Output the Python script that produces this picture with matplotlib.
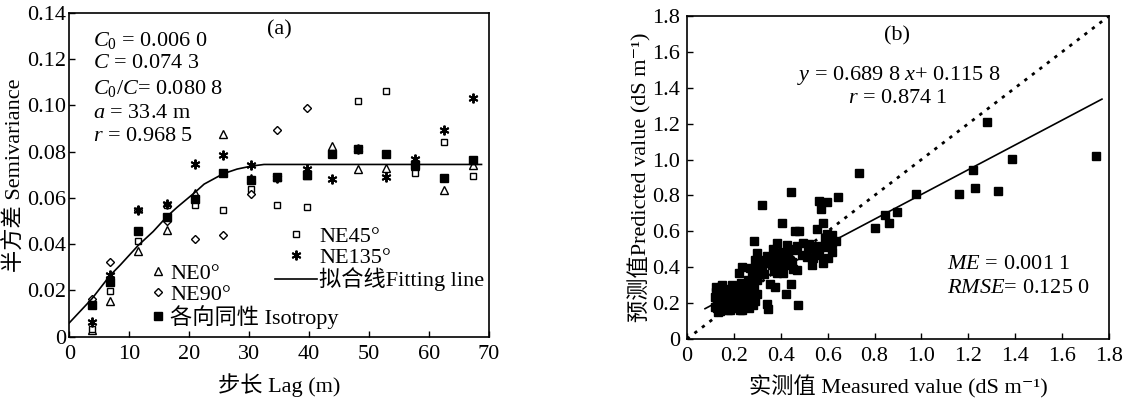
import matplotlib
matplotlib.use("Agg")
import matplotlib.pyplot as plt

plt.rcParams['font.family'] = ['Liberation Serif', 'Noto Sans CJK SC', 'DejaVu Serif']
plt.rcParams['mathtext.fontset'] = 'custom'
plt.rcParams['mathtext.rm'] = 'Liberation Serif'
plt.rcParams['mathtext.it'] = 'Liberation Serif:italic'

FS = 16

# ---------------- Panel (a) data ----------------
lag = [3.8, 6.8, 11.5, 16.3, 21.0, 25.7, 30.4, 34.7, 39.6, 43.8, 48.2, 52.8, 57.7, 62.5, 67.4]
ne0 = [0.003, 0.0156, 0.037, 0.0462, 0.0621, 0.0876, 0.0688, 0.069, 0.070, 0.0824, 0.0727, 0.0731, 0.074, 0.0633, 0.0741]
lag45 = [3.8, 6.8, 11.5, 16.3, 21.0, 25.7, 30.4, 34.7, 39.6, 48.2, 52.8, 57.7, 62.5, 67.4]
ne45 = [0.0035, 0.0196, 0.0413, 0.057, 0.0568, 0.0546, 0.064, 0.0568, 0.056, 0.102, 0.1063, 0.0708, 0.0841, 0.0693]
lag90 = [3.8, 6.8, 11.5, 16.3, 21.0, 25.7, 30.4, 34.7, 39.6]
ne90 = [0.0165, 0.0325, 0.055, 0.050, 0.0423, 0.0438, 0.0616, 0.0893, 0.099]
ne135 = [0.0062, 0.0267, 0.055, 0.0575, 0.0748, 0.0788, 0.0741, 0.0685, 0.0727, 0.0684, 0.0814, 0.069, 0.077, 0.0893, 0.1033]
iso = [0.0139, 0.0238, 0.0457, 0.0517, 0.0597, 0.0708, 0.0676, 0.069, 0.0698, 0.0792, 0.0814, 0.079, 0.0741, 0.0686, 0.0763]
fit_lag = [0.0, 3.8, 6.8, 8.5, 11.5, 14.0, 16.3, 18.0, 21.0, 22.5, 25.7, 28.0, 30.4, 32.5, 68.8]
fit_val = [0.006, 0.0165, 0.0265, 0.031, 0.0395, 0.0455, 0.052, 0.056, 0.0625, 0.066, 0.0705, 0.0725, 0.0738, 0.0745, 0.0745]

# ---------------- Panel (b) data ----------------
measured = [0.444, 0.321, 0.404, 0.461, 0.479, 0.562, 0.596, 0.646, 0.570, 0.582,
            0.556, 0.734, 0.802, 0.845, 0.863, 0.897, 0.976, 1.160, 1.222, 1.229,
            1.281, 1.325, 1.388, 1.743, 0.287, 0.472, 0.422, 0.444, 0.375, 0.354,
            0.340, 0.347, 0.636, 0.617, 0.603, 0.582, 0.532, 0.536, 0.511, 0.518,
            0.553, 0.589, 0.596, 0.617, 0.565, 0.589, 0.496, 0.471, 0.454, 0.447,
            0.468, 0.451, 0.425, 0.404, 0.418, 0.385, 0.375, 0.397, 0.383, 0.361,
            0.340, 0.343, 0.319, 0.297, 0.304, 0.290, 0.276, 0.269, 0.290, 0.262,
            0.233, 0.223, 0.247, 0.287, 0.257, 0.226, 0.200, 0.180, 0.162, 0.144,
            0.124, 0.365, 0.370, 0.330, 0.310, 0.400, 0.430, 0.440, 0.350, 0.320,
            0.300, 0.280, 0.410, 0.380, 0.420, 0.520, 0.490, 0.550, 0.600, 0.620,
            0.127, 0.127, 0.134, 0.148, 0.155, 0.169, 0.176, 0.191, 0.198, 0.212,
            0.226, 0.240, 0.247, 0.262, 0.276, 0.283, 0.141, 0.119, 0.162, 0.183,
            0.205, 0.233, 0.269, 0.130, 0.140, 0.145, 0.150, 0.160, 0.165, 0.170,
            0.175, 0.180, 0.185, 0.190, 0.195, 0.200, 0.205, 0.210, 0.215, 0.220,
            0.225, 0.230, 0.235, 0.240, 0.250, 0.255, 0.260, 0.265, 0.270, 0.280,
            0.125, 0.135, 0.150, 0.120, 0.130, 0.140, 0.160, 0.175, 0.190, 0.210,
            0.230, 0.250, 0.290, 0.300]
predicted = [0.818, 0.745, 0.645, 0.602, 0.602, 0.771, 0.762, 0.790, 0.725, 0.645,
             0.611, 0.924, 0.620, 0.691, 0.645, 0.710, 0.807, 0.808, 0.942, 0.843,
             1.211, 0.827, 1.003, 1.022, 0.546, 0.188, 0.251, 0.305, 0.292, 0.307,
             0.195, 0.165, 0.546, 0.487, 0.450, 0.422, 0.412, 0.450, 0.459, 0.506,
             0.518, 0.561, 0.585, 0.533, 0.468, 0.514, 0.537, 0.518, 0.496, 0.431,
             0.385, 0.389, 0.524, 0.487, 0.440, 0.533, 0.459, 0.403, 0.366, 0.412,
             0.463, 0.422, 0.440, 0.478, 0.403, 0.440, 0.366, 0.394, 0.338, 0.329,
             0.400, 0.366, 0.301, 0.283, 0.258, 0.273, 0.292, 0.273, 0.236, 0.288,
             0.264, 0.500, 0.380, 0.360, 0.370, 0.450, 0.470, 0.500, 0.440, 0.400,
             0.330, 0.310, 0.370, 0.420, 0.410, 0.530, 0.470, 0.490, 0.560, 0.580,
             0.208, 0.171, 0.152, 0.217, 0.180, 0.199, 0.161, 0.217, 0.180, 0.199,
             0.161, 0.217, 0.180, 0.199, 0.226, 0.190, 0.236, 0.236, 0.255, 0.245,
             0.245, 0.245, 0.255, 0.190, 0.200, 0.165, 0.250, 0.210, 0.170, 0.230,
             0.190, 0.200, 0.160, 0.240, 0.200, 0.170, 0.220, 0.180, 0.260, 0.200,
             0.230, 0.190, 0.160, 0.280, 0.220, 0.200, 0.240, 0.170, 0.300, 0.250,
             0.290, 0.270, 0.300, 0.180, 0.240, 0.155, 0.280, 0.260, 0.300, 0.270,
             0.310, 0.270, 0.210, 0.250]
slope = 0.6898
intercept = 0.1158
fit_x = [0.077, 1.77]
one_x = [0.0, 1.8]

fig = plt.figure(figsize=(11.4, 3.99), dpi=100)

# ================= Panel (a) =================
ax = fig.add_axes([0.0608, 0.1561, 0.3679, 0.8113])
ms = 5.5
ax.plot(lag, ne0, ls='none', marker='^', ms=ms, mfc='white', mec='black', mew=1.0, label='NE0°')
ax.plot(lag45, ne45, ls='none', marker='s', ms=ms - 0.5, mfc='white', mec='black', mew=1.0, label='NE45°')
ax.plot(lag90, ne90, ls='none', marker='D', ms=ms - 1, mfc='white', mec='black', mew=1.0, label='NE90°')
ax.plot(lag, ne135, ls='none', marker=(6, 2, 0), ms=ms + 1.5, mec='black', mew=1.4, label='NE135°')
ax.plot(lag, iso, ls='none', marker='s', ms=ms, mfc='black', mec='black', label='各向同性 Isotropy')
ax.plot(fit_lag, fit_val, color='black', lw=1.2, label='拟合线Fitting line')

ax.set_xlim(0, 70)
ax.set_ylim(0, 0.14)
ax.set_xticks(range(0, 71, 10))
ax.set_yticks([0, 0.02, 0.04, 0.06, 0.08, 0.10, 0.12, 0.14])
ax.set_yticklabels(['0', '0.02', '0.04', '0.06', '0.08', '0.10', '0.12', '0.14'])
ax.tick_params(direction='in', length=4, width=1, labelsize=FS)
ax.tick_params(axis='x', pad=6)
ax.tick_params(axis='y', pad=2)
for s in ax.spines.values():
    s.set_linewidth(1.2)
ax.set_xlabel('步长 Lag (m)', fontsize=FS)
ax.set_ylabel('半方差 Semivariance', fontsize=FS)
ax.xaxis.set_label_coords(0.5, -0.112)
ax.yaxis.set_label_coords(-0.103, 0.5)

ax.text(0.502, 0.947, '(a)', transform=ax.transAxes, ha='center', va='center', fontsize=FS)
ax.text(0.0565, 0.9165, r'$C_0$ = 0.006 0', transform=ax.transAxes, ha='left', va='center', fontsize=FS)
ax.text(0.0565, 0.8455, r'$C$ = 0.074 3', transform=ax.transAxes, ha='left', va='center', fontsize=FS)
ax.text(0.0565, 0.768, r'$C_0/C$= 0.080 8', transform=ax.transAxes, ha='left', va='center', fontsize=FS)
ax.text(0.0565, 0.691, r'$a$ = 33.4 m', transform=ax.transAxes, ha='left', va='center', fontsize=FS)
ax.text(0.0565, 0.617, r'$r$ = 0.968 5', transform=ax.transAxes, ha='left', va='center', fontsize=FS)

h, l = ax.get_legend_handles_labels()
hd = dict(zip(l, h))
leg1 = ax.legend([hd['NE0°'], hd['NE90°'], hd['各向同性 Isotropy']],
                 ['NE0°', 'NE90°', '各向同性 Isotropy'],
                 loc='lower left', bbox_to_anchor=(0.19, 0.025), frameon=False,
                 fontsize=FS, handlelength=0.8, handletextpad=0.15, labelspacing=0.0,
                 borderpad=0.0, borderaxespad=0.0)
ax.add_artist(leg1)
leg2 = ax.legend([hd['NE45°'], hd['NE135°'], hd['拟合线Fitting line']],
                 ['NE45°', 'NE135°', '拟合线Fitting line'],
                 loc='lower left', bbox_to_anchor=(0.49, 0.14), frameon=False,
                 fontsize=FS, handlelength=1.9, handletextpad=0.1, labelspacing=0.0,
                 borderpad=0.0, borderaxespad=0.0)

# ================= Panel (b) =================
bx = fig.add_axes([0.6026, 0.1504, 0.3702, 0.8095])
bx.plot(measured, predicted, ls='none', marker='s', ms=5.2, mfc='black', mec='black')
bx.plot(fit_x, [slope * v + intercept for v in fit_x], color='black', lw=1.2)
bx.plot(one_x, one_x, color='black', lw=2.0, ls=(0, (1.2, 2.2)))
bx.set_xlim(0, 1.8)
bx.set_ylim(0, 1.8)
ticks = [0, 0.2, 0.4, 0.6, 0.8, 1.0, 1.2, 1.4, 1.6, 1.8]
tl = ['0', '0.2', '0.4', '0.6', '0.8', '1.0', '1.2', '1.4', '1.6', '1.8']
bx.set_xticks(ticks)
bx.set_xticklabels(tl)
bx.set_yticks(ticks)
bx.set_yticklabels(tl)
bx.tick_params(direction='in', length=4, width=1, labelsize=FS)
bx.tick_params(axis='x', pad=6)
bx.tick_params(axis='y', pad=5)
for s in bx.spines.values():
    s.set_linewidth(1.2)
bx.set_xlabel('实测值 Measured value (dS m⁻¹)', fontsize=FS)
bx.set_ylabel('预测值Predicted value (dS m⁻¹)', fontsize=FS)
bx.xaxis.set_label_coords(0.5, -0.111)
bx.yaxis.set_label_coords(-0.085, 0.5)

bx.text(0.498, 0.938, '(b)', transform=bx.transAxes, ha='center', va='center', fontsize=FS)
bx.text(0.26, 0.817, r'$y$ = 0.689 8 $x$+ 0.115 8', transform=bx.transAxes, ha='left', va='center', fontsize=FS)
bx.text(0.382, 0.745, r'$r$ = 0.874 1', transform=bx.transAxes, ha='left', va='center', fontsize=FS)
bx.text(0.617, 0.232, r'$ME$ = 0.001 1', transform=bx.transAxes, ha='left', va='center', fontsize=FS)
bx.text(0.617, 0.156, r'$RMSE$= 0.125 0', transform=bx.transAxes, ha='left', va='center', fontsize=FS)

fig.savefig('out.png', dpi=100)
